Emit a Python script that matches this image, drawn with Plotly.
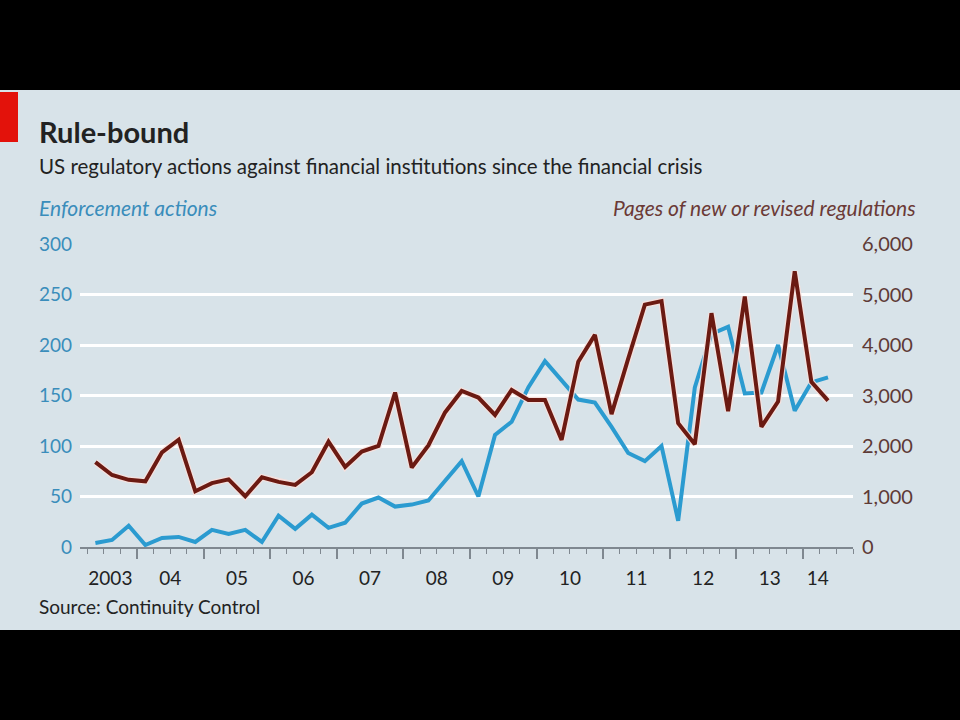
import plotly.graph_objects as go

# quarterly points, 2003Q2 to 2014Q2
quarters = [f"{y}Q{q}" for y in range(2003, 2015) for q in range(1, 5)][1:46]

enforcement = [4, 7, 21, 2, 9, 10, 5, 17, 13, 17, 5, 31, 18, 32, 19, 24,
               43, 49, 40, 42, 46, 66, 85, 50, 111, 124, 158, 184, 165, 146,
               143, 119, 93, 85, 100, 26, 158, 211, 218, 152, 153, 200, 135,
               163, 168]

pages = [1680, 1425, 1330, 1300, 1875, 2125, 1105, 1265, 1340, 1005, 1380,
         1290, 1230, 1480, 2085, 1585, 1890, 2000, 3060, 1575, 2010, 2665,
         3090, 2960, 2615, 3110, 2910, 2910, 2120, 3670, 4200, 2630, 3730,
         4800, 4870, 2450, 2035, 4630, 2690, 4960, 2380, 2880, 5460, 3270,
         2900]

year_labels = ["2003", "04", "05", "06", "07", "08", "09", "10", "11", "12", "13", "14"]
label_pos = [2003.6, 2004.5, 2005.5, 2006.5, 2007.5, 2008.5, 2009.5, 2010.5,
             2011.5, 2012.5, 2013.5, 2014.22]

# quarter string -> decimal year at mid quarter
xq = [int(s[:4]) + (int(s[-1]) - 0.5) / 4 for s in quarters]

BG = "#d8e3e9"
BLUE = "#2b9bd0"
RED = "#6b1a12"
FONT = "Lato"

L, R, T, B = 80, 107, 244, 173
W, H = 960, 720
pw, ph = W - L - R, H - T - B


def px(x):
    return (x - L) / pw


def py(y):
    return (H - B - y) / ph


fig = go.Figure()
fig.add_trace(go.Scatter(x=xq, y=enforcement, xaxis="x", yaxis="y", mode="lines",
                         line=dict(color=BLUE, width=4), hoverinfo="skip"))
# light halo under the red line
fig.add_trace(go.Scatter(x=xq, y=pages, xaxis="x2", yaxis="y2", mode="lines",
                         line=dict(color="rgba(250,225,220,0.85)", width=6.5),
                         hoverinfo="skip"))
fig.add_trace(go.Scatter(x=xq, y=pages, xaxis="x2", yaxis="y2", mode="lines",
                         line=dict(color=RED, width=4), hoverinfo="skip"))

xr = [2003.144, 2014.75]

fig.update_layout(
    width=W, height=H,
    margin=dict(l=L, r=R, t=T, b=B),
    paper_bgcolor=BG, plot_bgcolor=BG,
    showlegend=False,
    font=dict(family=FONT, color="#222"),
    xaxis=dict(range=xr, showgrid=False, zeroline=False,
               showline=True, linecolor="#7f8890", linewidth=1.5,
               tickvals=list(range(2004, 2015)), ticks="outside", ticklen=10,
               tickwidth=1.5, tickcolor="#7f8890", showticklabels=False,
               minor=dict(dtick=0.25, tick0=2003, ticks="outside", ticklen=5,
                          tickwidth=1.2, tickcolor="#7f8890", showgrid=False)),
    xaxis2=dict(range=xr, overlaying="x", anchor="y2", side="bottom",
                showgrid=False, zeroline=False, showline=False,
                tickvals=label_pos, ticktext=year_labels, ticks="",
                ticklabelstandoff=18,
                tickfont=dict(size=19, color="#222", family=FONT)),
    yaxis=dict(range=[0, 300], tickvals=[0, 50, 100, 150, 200, 250, 300],
               showgrid=True, gridcolor="white", gridwidth=2.5, zeroline=False,
               showline=False, ticks="", ticklabelstandoff=7,
               tickfont=dict(size=19, color="#3a8dbb", family=FONT)),
    yaxis2=dict(range=[0, 6000], overlaying="y", side="right", anchor="x2",
                tickvals=[0, 1000, 2000, 3000, 4000, 5000, 6000],
                tickformat=",", showgrid=False, zeroline=False, showline=False,
                ticks="", ticklabelstandoff=8,
                tickfont=dict(size=20, color="#5e3a36", family=FONT)),
)

shapes = [
    dict(type="rect", xref="paper", yref="paper", x0=px(0), x1=px(960),
         y0=py(0), y1=py(90), fillcolor="black", line_width=0, layer="above"),
    dict(type="rect", xref="paper", yref="paper", x0=px(0), x1=px(960),
         y0=py(630), y1=py(720), fillcolor="black", line_width=0, layer="above"),
    dict(type="rect", xref="paper", yref="paper", x0=px(0), x1=px(18),
         y0=py(92), y1=py(142), fillcolor="#e3120b", line_width=0),
]
fig.update_layout(shapes=shapes)


def note(x, y, text, size, color="#222", anchor="left", **kw):
    fig.add_annotation(x=px(x), y=py(y), xref="paper", yref="paper", text=text,
                       showarrow=False, xanchor=anchor, yanchor="middle",
                       font=dict(size=size, color=color, family=FONT), **kw)


note(37, 131, "<b>Rule-bound</b>", 29)
note(37, 166, "US regulatory actions against financial institutions since the financial crisis", 20.5)
note(37, 207, "<i>Enforcement actions</i>", 21, color="#3a8dbb")
note(918, 207, "<i>Pages of new or revised regulations</i>", 21, color="#6b3a36", anchor="right")
note(37, 606, "Source: Continuity Control", 19)

# drop the browser's default page margin so the figure sits at 0,0
fig.write_html("out.html", config={"displayModeBar": False},
               post_script="document.body.style.margin='0';")
